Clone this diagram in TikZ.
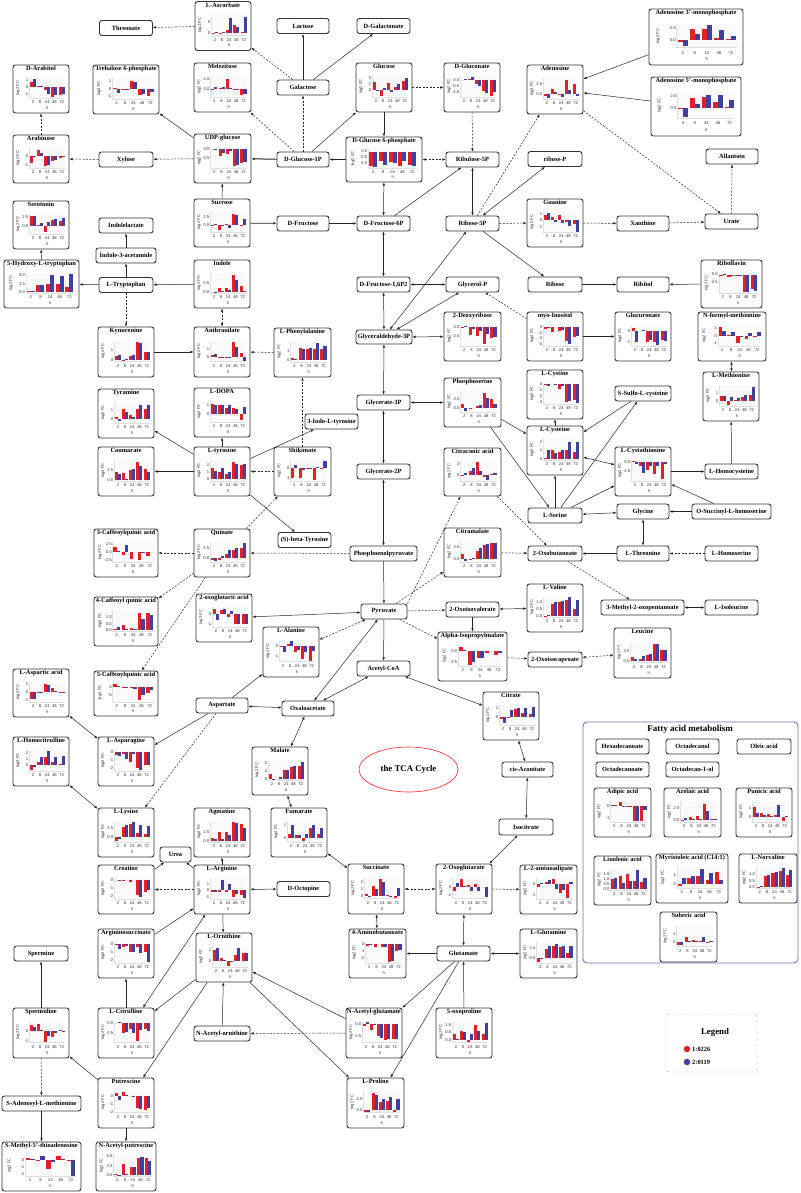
\documentclass[tikz,border=0pt]{standalone}
\usepackage{fontspec}
\setmainfont{Liberation Serif}
\setsansfont{Liberation Sans}
\usepackage{tikz}
\usetikzlibrary{positioning, arrows.meta, shapes.geometric, calc}
\usepackage{xcolor}

\definecolor{fcred}{RGB}{226,32,40}
\definecolor{fcblue}{RGB}{64,64,160}
\definecolor{faline}{RGB}{112,112,184}

% box with a small log2 FC bar chart
% #1 name, #2 centre, #3 width, #4 height, #5 title, #6 ymin, #7 ymax, #8 ticks, #9 values
\newcommand{\fcchart}[9]{%
  \node[fcbox, minimum width=#3, minimum height=#4] (#1) at (#2) {};
  \node[fctitle, anchor=north] (#1-t) at ([yshift=-1.2pt]#1.north) {#5};
  \begin{scope}[shift={(#1.north west)}]
    \pgfmathsetmacro{\fcl}{0.30*#3}
    \pgfmathsetmacro{\fcr}{0.94*#3}
    \pgfmathsetmacro{\fct}{0.28*#4}
    \pgfmathsetmacro{\fcb}{0.70*#4}
    \pgfmathsetmacro{\fcg}{(\fcr-\fcl)/5}
    \pgfmathsetmacro{\fcw}{0.42*\fcg}
    \pgfmathsetmacro{\fck}{(\fcb-\fct)/((#7)-(#6))}
    \pgfmathsetmacro{\fcz}{\fcb+(#6)*\fck}
    \fill[gray!4] (\fcl,\fct) rectangle (\fcr,\fcb);
    \draw[gray!25, line width=0.6pt] (\fcl,\fct) -- (\fcl,\fcb) -- (\fcr,\fcb);
    \foreach \bv [count=\nb from 0] in {#9} {
      \pgfmathtruncatemacro{\fcgi}{\nb/2}
      \pgfmathtruncatemacro{\fcs}{mod(\nb,2)}
      \pgfmathsetmacro{\fcx}{\fcl+(\fcgi+0.08)*\fcg+\fcs*\fcw}
      \pgfmathsetmacro{\fcy}{\fcz-(\bv)*\fck}
      \ifnum\fcs=0 \def\fccol{fcred}\else\def\fccol{fcblue}\fi
      \fill[\fccol] (\fcx,\fcz) rectangle ({\fcx+\fcw},\fcy);
    }
    \foreach \tk/\tx [count=\nt] in {#8}
      \node[fctick, anchor=east] (#1-y\nt) at ({\fcl-0.6},{\fcz-(\tk)*\fck}) {\tx};
    \foreach \hx [count=\nx from 0] in {2,8,24,48,72}
      \node[fctick] (#1-x\nx) at ({\fcl+(\nx+0.5)*\fcg},{0.79*#4}) {\hx};
    \node[fctick] (#1-h) at ({(\fcl+\fcr)/2},{0.90*#4}) {h};
    \node[fctick, rotate=90] (#1-lfc) at ({0.1*#3},{(\fct+\fcb)/2}) {log2 FC};
  \end{scope}
}

\begin{document}
\begin{tikzpicture}[
  x=1pt, y=-1pt,
  fcbox/.style={draw=black!80, line width=0.9pt, rounded corners=2.5pt, fill=white, inner sep=0pt},
  fctitle/.style={font=\bfseries\fontsize{6.4}{7}\selectfont, inner sep=0.5pt},
  fctick/.style={font=\sffamily\fontsize{4.2}{4.5}\selectfont, inner sep=0.3pt, text=black!80},
  mbox/.style={draw=black!80, line width=0.9pt, rounded corners=2.5pt, fill=white,
               font=\bfseries\fontsize{6.4}{7}\selectfont, minimum height=15, minimum width=53,
               inner xsep=0.5pt, inner ysep=0pt},
  ar/.style={draw=black!85, line width=0.5pt, -{Latex[length=3.2pt,width=2.6pt]}},
  bi/.style={draw=black!85, line width=0.5pt, {Latex[length=3.2pt,width=2.6pt]}-{Latex[length=3.2pt,width=2.6pt]}},
  dsh/.style={dash pattern=on 2pt off 1.5pt}
]
\useasboundingbox (0,0) rectangle (800,1193);
\fill[white] (0,0) rectangle (800,1193);

% fatty acid panel (behind its boxes)
\node[draw=faline, line width=0.9pt, rounded corners=4pt, minimum width=215, minimum height=241, inner sep=0pt] (fam) at (690.5,842.5) {};
\node[font=\bfseries\fontsize{9}{10}\selectfont] (fam-t) at (690,729.5) {Fatty acid metabolism};

% sugars
\fcchart{asc}{223,26}{56}{49}{L-Ascorbate}{-1}{8}{0/0,5/5}{0.2,0.3,-0.3,0.3,1.5,6.5,3.5,2.5,0.5,7}
\fcchart{mel}{222.5,87.5}{57}{49}{Melezitose}{-2}{3.3}{0/0.0,2.5/2.5}{-0.3,0.5,0.2,0.6,2.7,0.3,0.1,0.1,-1.5,-1.3}
\fcchart{arab}{41,89}{56}{48}{D-Arabitol}{-1.5}{1.3}{-1/-1,0/0,1/1}{0.8,1.1,0.2,0.2,-0.3,-0.9,-1.3,-1,-1,-0.9}
\fcchart{tre6p}{126,89.5}{66}{49}{Trehalose 6-phosphate}{-1.3}{1.3}{-1/-1,0/0,1/1}{0.1,-0.5,-0.2,-0.1,1.0,0.8,-0.8,-0.7,-1.0,-0.4}
\fcchart{arabinose}{41,159}{56}{48}{Arabinose}{-1.4}{1}{-1/-1,0/0}{-0.8,0.1,0.8,0.4,-1.2,-1,-0.6,-0.4,-0.2,-0.1}
\fcchart{udpg}{222.5,158.5}{57}{49}{UDP-glucose}{-5}{0.5}{-2.5/-2.5,0/0.0}{0,-0.2,-1.8,-1.1,-1.4,-0.5,-4.5,-4.2,-3.8,-3.5}
\fcchart{sero}{41,225}{56}{48}{Serotonin}{-2.5}{3.5}{0/0.0,2.5/2.5}{2.8,2.8,0.3,0.8,-2,1,1.6,2,1.3,2.3}
\fcchart{sucr}{222,223}{56}{48}{Sucrose}{-2}{4}{0/0.0,2.5/2.5}{0.2,0.3,-1.5,-0.3,0.3,-0.8,3.5,3.2,0.1,1.8}
\fcchart{htp}{41.5,284}{75}{48}{5-Hydroxy-L-tryptophan}{-0.3}{5.7}{0/0.0,2.5/2.5,5/5.0}{0.2,0.3,2,2,2.5,5,2.5,4.7,1.4,5.3}
\fcchart{indole}{222,284}{56}{48}{Indole}{-0.3}{5.5}{0/0.0,2.5/2.5}{0,0.1,1.2,0.2,1.3,0.5,4.8,3.5,1.8,0.4}
\fcchart{glc}{384,87.5}{56}{49}{Glucose}{-1}{2.2}{0/0,1/1,2/2}{1.3,0.1,-0.8,0.4,1.1,-0.2,0.5,1,1.4,1.9}
\fcchart{gluconate}{472,87.5}{56}{49}{D-Gluconate}{-1.4}{0.3}{-1/-1.0,-0.5/-0.5,0/0.0}{0,0.1,0.05,0.2,-0.3,-0.5,-0.9,-1.1,-1.3,-1}
\fcchart{g6p}{384,159.5}{76}{45}{D-Glucose 6-phosphate}{-1.4}{0.2}{-1/-1.0,-0.5/-0.5,0/0.0}{-1.2,-1.3,-0.8,-1.1,-0.9,-1.0,-1.2,-0.8,-1.1,-1.2}

\node[mbox] (threo) at (126,28) {Threonate};
\node[mbox, minimum width=52] (lac) at (303,26) {Lactose};
\node[mbox] (galn) at (383.5,26) {D-Galactonate};
\node[mbox, minimum width=52] (gal) at (303,87.5) {Galactose};
\node[mbox, minimum width=54] (xyl) at (126,159.5) {Xylose};
\node[mbox, minimum width=52] (g1p) at (303,159.5) {D-Glucose-1P};
\node[mbox] (ru5p) at (472.5,159.5) {Ribulose-5P};
\node[mbox, minimum width=54] (indlac) at (126,225.5) {Indolelactate};
\node[mbox, minimum width=52] (fru) at (303,223.5) {D-Fructose};
\node[mbox] (f6p) at (383.5,223.5) {D-Fructose-6P};
\node[mbox, minimum width=60] (iam) at (126,255.5) {Indole-3-acetamide};
\node[mbox, minimum width=54] (trp) at (126,285) {L-Tryptophan};
\node[mbox] (fbp) at (383.5,284.5) {D-Fructose-1,6P2};
\node[mbox] (glyp) at (472.5,284.5) {Glycerol-P};

% nucleotides
\fcchart{amp3}{696,37}{94}{56}{Adenosine 3'-monophosphate}{-1.5}{3.2}{0/0.0,2.5/2.5}{-0.3,-1.2,2.3,1.3,2.3,3,0.5,2,0.2,0.8}
\fcchart{ado}{555,89.5}{56}{49}{Adenosine}{-1.3}{4}{0/0.0,2.5/2.5}{-0.5,-1,1.2,0.5,-0.3,-0.8,3.5,1,2.5,-0.5}
\fcchart{amp5}{696,106.5}{90}{59}{Adenosine 5'-monophosphate}{-2}{3.2}{0/0.0,2.5/2.5}{-0.1,-1.8,2.2,1,2.3,2.7,1.3,2.7,0.3,1.8}
\fcchart{gua}{555,223}{56}{48}{Guanine}{-1.8}{1.3}{-1/-1,0/0,1/1}{0.9,1.1,0.6,-0.2,0.8,-0.4,-0.3,-0.8,-0.5,-1.7}
\fcchart{ribofl}{731.5,284}{61}{48}{Riboflavin}{-6}{0.5}{-2.5/-2.5,0/0.0}{-0.3,0.1,-0.8,-0.2,-0.3,-0.5,-5.5,-5.5,-4.7,-5.3}

\node[mbox, minimum width=54] (ribp) at (555,159) {ribose-P};
\node[mbox, minimum width=52] (allan) at (732,156.5) {Allantoin};
\node[mbox] (r5p) at (472.5,223.5) {Ribose-5P};
\node[mbox, minimum width=52] (xan) at (643,223.5) {Xanthine};
\node[mbox] (urate) at (731.5,221.5) {Urate};
\node[mbox, minimum width=54] (rib) at (555,284.5) {Ribose};
\node[mbox, minimum width=52] (ribol) at (643,284.5) {Ribitol};

% aromatic amino acids
\fcchart{kyn}{126,352}{56}{50}{Kynurenine}{-0.2}{2}{0/0,1/1}{0.4,0.5,-0.1,0.1,0.4,0.5,1.8,1.7,0.8,0.8}
\fcchart{anth}{222,352}{56}{50}{Anthranilate}{-0.6}{2.1}{0/0,1/1}{0.2,0.4,-0.1,-0.2,-0.1,-0.2,1.9,1.3,0.5,-0.5}
\fcchart{phe}{302.5,352.5}{57}{49}{L-Phenylalanine}{-0.2}{2}{0/0,1/1}{0.2,0.1,1.3,1.2,1.2,1.3,1.2,1.8,1.2,1.5}
\fcchart{tyra}{126,413.5}{56}{49}{Tyramine}{-0.4}{1.9}{0/0,1/1}{0.3,-0.2,1.2,0.8,0.5,0.3,1.1,1.6,1.1,1.6}
\fcchart{dopa}{222,412.5}{56}{49}{L-DOPA}{-1}{1.5}{0/0,1/1}{1.2,1.0,1.0,1.1,0.7,1.0,0.7,0.6,-0.8,0.8}
\fcchart{coum}{126,471.5}{56}{49}{Coumarate}{-0.3}{5}{0/0.0,2.5/2.5}{2.1,1.5,1.8,0.3,2.5,2.8,4.5,3.5,2.8,1.9}
\fcchart{tyr}{222,471.5}{56}{49}{L-tyrosine}{-0.2}{2.6}{0/0,1/1,2/2}{1.6,1.1,1.0,1.5,0.8,1.0,2.3,2.1,2.0,2.1}
\fcchart{cq3}{126,553}{64}{48}{3-Caffeoylquinic acid}{-3.3}{3}{-2.5/-2.5,0/0.0,2.5/2.5}{1.5,0.2,-1.2,2,-2.2,0,-2.5,-0.2,-1.5,0}
\fcchart{quin}{222,553}{56}{48}{Quinate}{-1.2}{4.2}{0/0.0,2.5/2.5}{-0.5,-1.0,-0.5,0.5,1.0,2.0,2.0,2.5,2.5,3.8}
\fcchart{shik}{302.5,471.5}{57}{49}{Shikimate}{-1.3}{0.8}{-1/-1,0/0}{-1,0.3,-1,-0.2,0.05,0.05,-1.2,0.1,0.05,0.7}

\node[mbox] (iodo) at (331.5,421.5) {3-Iodo-L-tyrosine};
\node[mbox] (btyr) at (304.5,540) {(S)-beta-Tyrosine};

% glycolysis side
\fcchart{deoxy}{472.5,336.5}{57}{49}{2-Deoxyribose}{-5}{0.4}{-2.5/-2.5,0/0.0}{-0.1,0.1,-2.2,-0.5,-2.3,-1.2,-4.5,-2,-3,-2.6}
\fcchart{pser}{472.5,402.5}{57}{49}{Phosphoserine}{-1.3}{5}{0/0.0,2.5/2.5}{1.2,-1,-0.5,0,0.5,0.8,4.5,3,2.5,1.2}
\fcchart{citra}{472.5,472}{57}{48}{Citraconic acid}{-1}{2.5}{0/0,2/2}{-0.1,0.5,0.8,1.3,2.3,0.8,-0.3,-0.8,0.3,0.4}
\fcchart{citm}{472.5,552.5}{57}{49}{Citramalate}{-0.5}{3.8}{0/0.0,2.5/2.5}{1.2,-0.3,0.2,0.3,1.8,2.3,3,3.2,3.4,3.5}

\node[mbox, minimum width=56, minimum height=14] (gap) at (384,337) {Glyceraldehyde-3P};
\node[mbox] (g3p) at (383.5,402.5) {Glycerate-3P};
\node[mbox] (g2p) at (383.5,471.5) {Glycerate-2P};
\node[mbox, minimum width=67] (pep) at (383.5,553.5) {Phosphoenolpyruvate};

% sulfur and serine
\fcchart{myo}{555,336.5}{56}{49}{myo-Inositol}{-3.3}{0.3}{-3/-3,-2/-2,-1/-1,0/0}{-0.3,-0.1,-0.8,0,-0.7,-0.5,-2.5,-3,-1.7,-1.5}
\fcchart{glcur}{643,336.5}{56}{49}{Glucuronate}{-1.3}{0.5}{-1/-1,0/0}{0.3,-1,0,0.05,-1,-0.8,-1.0,-1.2,-0.8,-0.9}
\fcchart{fmet}{732,336.5}{68}{49}{N-formyl-methionine}{-1.3}{1.3}{-1/-1,0/0,1/1}{1.1,0.6,0.1,0.5,-1,-0.2,-0.4,0.3,-0.1,0.5}
\fcchart{cyss}{555,394.5}{56}{49}{L-Cystine}{-3.3}{0.2}{-3/-3,-2/-2,-1/-1,0/0}{-0.1,-0.2,0,-0.1,-0.8,-0.3,-3,-2.8,-2.7,-3.2}
\fcchart{met}{731,396.5}{56}{49}{L-Methionine}{-0.6}{2}{0/0,1/1}{0.7,0.6,-0.5,0.5,0.1,0.4,0.5,0.8,0.8,1.8}
\fcchart{cys}{555,450.5}{56}{49}{L-Cysteine}{-0.1}{2.3}{0/0,1/1,2/2}{0.1,1.0,1.1,0.7,0.8,1.0,1.0,2.0,0.8,2.0}
\fcchart{cysta}{643,471.5}{56}{49}{L-Cystathionine}{-5}{0.5}{-2.5/-2.5,0/0.0}{0.3,-0.5,-1,-3,-2,-1.1,-3.2,-1,-4.5,-0.5}

\node[mbox, minimum width=56] (ssc) at (643,393.5) {S-Sulfo-L-cysteine};
\node[mbox] (hcys) at (731.5,471.5) {L-Homocysteine};
\node[mbox, minimum width=54] (ser) at (555,515.5) {L-Serine};
\node[mbox, minimum width=52] (gly) at (643,511.5) {Glycine};
\node[mbox, minimum width=79] (osh) at (731.5,511.5) {O-Succinyl-L-homoserine};
\node[mbox, minimum width=54] (oxob) at (555,553.5) {2-Oxobutanoate};
\node[mbox, minimum width=52] (thr) at (643,553.5) {L-Threonine};
\node[mbox] (hser) at (731.5,553.5) {L-Homoserine};

% branched chain
\fcchart{val}{555,608}{56}{48}{L-Valine}{-0.1}{1.4}{0/0.0,0.5/0.5,1/1.0}{-0.05,0.05,0.9,1.0,1.0,1.1,1.2,1.4,0.5,1.2}
\fcchart{leu}{642.5,653}{57}{50}{Leucine}{-0.3}{5}{0/0.0,2.5/2.5}{1.2,0.5,0.5,1.3,1.6,1.8,4.5,4.3,2.9,2.9}
\fcchart{ipm}{472.5,656.5}{69}{49}{Alpha-Isopropylmalate}{-3.3}{1.3}{-2.5/-2.5,0/0.0}{1,0.3,-3,-2.5,-1.5,-1.5,-0.5,0,-0.8,-0.5}

\node[mbox, minimum width=46] (pyr) at (384,611.5) {Pyruvate};
\node[mbox] (oxiv) at (472.5,609.5) {2-Oxoisovalerate};
\node[mbox, minimum width=83] (mop) at (642.5,607.5) {3-Methyl-2-oxopentanoate};
\node[mbox] (ile) at (731.5,607.5) {L-Isoleucine};
\node[mbox, minimum width=54] (oxic) at (555,659.5) {2-Oxoisocaproate};
\node[mbox] (acoa) at (383.5,668.5) {Acetyl-CoA};

% TCA cycle
\fcchart{oxoglu}{224,618}{56}{48}{2-oxoglutaric acid}{-1.3}{0.7}{-1/-1,0/0}{0.5,-0.6,0.4,0.5,-0.3,0.3,-1.0,-1.0,-1.0,-1.0}
\fcchart{cq4}{126,621.5}{64}{49}{4-Caffeoyl quinic acid}{-0.1}{1.6}{0/0.0,0.5/0.5,1/1.0}{0.05,0.2,0.4,0.05,0.1,0.05,1.4,0.9,1.4,1.2}
\fcchart{aspac}{41,693}{56}{48}{L-Aspartic acid}{-1.2}{1.3}{-1/-1,0/0,1/1}{-0.8,-0.8,0.05,0.1,1.1,0.9,0.5,0.2,-0.1,0.1}
\fcchart{cq5}{126,693.5}{64}{45}{5-Caffeoylquinic acid}{-9}{2}{-5/-5,0/0}{1.5,0.5,-0.5,-0.8,-0.5,-1.5,-8,-5,-4,-2}
\fcchart{hcit}{41,761.5}{56}{49}{L-Homocitrulline}{-1}{2.4}{0/0,1/1,2/2}{-0.8,-0.3,0.5,1.3,1.3,2.2,0.5,1.3,0.1,1.5}
\fcchart{asn}{126,761.5}{56}{49}{L-Asparagine}{-2.3}{0.2}{-2/-2,-1/-1,0/0}{-0.4,-0.5,-0.3,-0.8,-1.2,-0.3,-2,-2.2,-1.6,-1.6}
\fcchart{ala}{291,652}{56}{50}{L-Alanine}{-1.5}{0.5}{-1/-1,0/0}{-0.1,-0.6,0.2,0.5,-0.6,-0.4,-1.3,-0.6,-1.4,-0.5}
\fcchart{mal}{280,771}{56}{48}{Malate}{-0.1}{2.4}{0/0,1/1,2/2}{0.7,0.1,0.0,0.3,1.1,1.2,1.5,1.7,1.6,2.1}
\fcchart{cit}{511,716}{56}{48}{Citrate}{-1}{1.4}{0/0,1/1}{-0.3,-0.8,-0.2,0.8,0.9,1.1,0.4,1,0.3,1.2}
\fcchart{lys}{126,832.5}{56}{49}{L-Lysine}{-1.2}{4.3}{0/0.0,2.5/2.5}{-1,-0.5,2.7,3.3,3.6,4,1.2,3.2,0.8,3.0}
\fcchart{agm}{222,832.5}{56}{49}{Agmatine}{-0.3}{5.3}{0/0.0,2.5/2.5}{0.8,0.5,2.5,0.5,2.5,1.5,5,4.8,4.5,3.5}
\fcchart{fum}{299,832.5}{56}{49}{Fumarate}{-0.3}{1.3}{0/0,1/1}{0.3,1.0,0.2,0.2,-0.2,0.3,0.8,1.0,0.3,0.8}
\fcchart{crea}{126,889.5}{56}{49}{Creatine}{-2.3}{0.2}{-2/-2,-1/-1,0/0}{0,-0.1,-0.1,0,-0.2,0,-1.8,-2.1,-1.5,-1.2}
\fcchart{arg}{222,889.5}{56}{49}{L-Arginine}{-1.3}{1.9}{-1/-1,0/0,1/1}{-0.3,-0.2,-0.3,1.7,-0.2,1.0,-1.0,-0.6,-0.7,-1.2}
\fcchart{succ}{376,889}{56}{50}{Succinate}{-0.3}{2.7}{0/0,1/1,2/2}{0.3,0.1,1.5,1.1,2.5,2,0.2,0.1,-0.2,1.2}
\fcchart{oxog}{464,889}{56}{50}{2-Oxoglutarate}{-1.5}{1.2}{-1/-1,0/0}{-0.5,0.5,1.0,0.1,0.2,-0.5,0.4,-0.5,0,-1.3}
\fcchart{aad}{548.5,889.5}{57}{49}{L-2-aminoadipate}{-1.4}{0.6}{-1/-1,0/0}{-0.2,0.1,0.2,0.4,0.5,-0.4,-0.8,-0.5,-1.3,0.2}

\node[mbox, minimum width=52] (asp) at (222,705.5) {Aspartate};
\node[mbox, minimum width=52] (oaa) at (308,708.5) {Oxaloacetate};
\node[mbox, minimum width=51] (cisa) at (527.5,769.5) {cis-Aconitate};
\node[mbox, minimum width=54, minimum height=16] (icit) at (526,827) {Isocitrate};
\node[mbox, minimum width=31] (urea) at (175.5,854.5) {Urea};
\node[mbox] (octo) at (303.5,889) {D-Octopine};
\node[ellipse, draw=red!85, line width=0.6pt, minimum width=99, minimum height=45,
      font=\bfseries\fontsize{8.8}{10}\selectfont] (tca) at (408.5,769.5) {the TCA Cycle};

% glutamate, urea cycle, polyamines
\fcchart{asuc}{126,953.5}{56}{49}{Argininosuccinate}{-2.4}{0.2}{-2/-2,-1/-1,0/0}{-0.2,-0.6,-0.4,-0.3,-1,-1,-0.4,-1.1,-1.0,-2.3}
\fcchart{orn}{224,957.5}{56}{49}{L-Ornithine}{-0.6}{1.4}{0/0,1/1}{1.0,1.2,0.3,0.1,-0.5,-0.1,0.6,1.2,0.7,0.7}
\fcchart{gaba}{377.5,953.5}{57}{49}{4-Aminobutanoate}{-2.6}{0.2}{-2/-2,-1/-1,0/0}{-0.3,-0.2,-0.5,0,-0.5,-0.5,-2.5,-2.3,-1,-0.8}
\fcchart{gln}{548.5,953.5}{57}{49}{L-Glutamine}{-1.2}{3.8}{0/0.0,2.5/2.5}{-1,-0.3,2.2,3.0,3.0,3.5,2.7,3.0,1.2,3.0}
\fcchart{spd}{41,1033}{56}{50}{Spermidine}{-1.2}{0.9}{-1/-1,0/0}{0.6,0.4,0.7,0.1,-1.1,-0.5,-0.6,-0.2,0.1,-0.1}
\fcchart{citr}{126,1033}{56}{50}{L-Citrulline}{-5}{0.5}{-2.5/-2.5,0/0.0}{0,0.3,-2.5,-2.2,-1.5,-2.5,-4.5,-1.8,-1.5,-2.0}
\fcchart{nag}{374,1033}{56}{50}{N-Acetyl-glutamate}{-4}{0.5}{-2.5/-2.5,0/0.0}{-0.5,0.3,-1.3,-0.1,-2.5,-3,-3.5,-3.3,-3.3,-3.2}
\fcchart{oxop}{464,1033}{56}{50}{5-oxoproline}{-0.15}{1.2}{0/0.0,0.5/0.5,1/1.0}{0.4,0.05,0.6,0.5,-0.1,0.4,1.0,0.6,0.4,1.1}
\fcchart{put}{126,1103}{56}{50}{Putrescine}{-2.1}{0.6}{-2/-2,-1/-1,0/0}{0.4,-0.5,0.5,0.1,0.0,-0.1,-1.5,-1.6,-1.8,-1.5}
\fcchart{pro}{375.5,1103}{57}{50}{L-Proline}{-0.5}{4.3}{0/0.0,2.5/2.5}{-0.3,-0.3,4,3.5,2,2.5,2.2,3,-0.3,2.7}
\fcchart{mta}{41.5,1166.5}{79}{49}{S-Methyl-5'-thioadenosine}{-2.3}{0.7}{-2/-2,-1/-1,0/0}{0.3,0.2,-0.1,0.6,-1.3,-0.3,0.6,0.1,-0.2,-2.3}
\fcchart{acput}{126,1166.5}{60}{49}{N-Acetyl-putrescine}{-0.1}{5.3}{0/0.0,2.5/2.5,5/5.0}{0.4,0.2,2.9,0.3,2.2,2.2,4.5,4.8,4.5,3.8}

\node[mbox, minimum width=54] (spm) at (41,953.5) {Spermine};
\node[mbox] (glu) at (463.5,953.5) {Glutamate};
\node[mbox, minimum width=56] (naorn) at (222,1033.5) {N-Acetyl-ornithine};
\node[mbox, minimum width=79] (sam) at (41.5,1103.5) {S-Adenosyl-L-methionine};

% fatty acids
\node[mbox] (hexa) at (622.5,746.5) {Hexadecanoate};
\node[mbox] (octol) at (692.5,746.5) {Octadecanol};
\node[mbox, minimum width=54] (olei) at (764,746.5) {Oleic acid};
\node[mbox] (octa) at (622.5,769.5) {Octadecanoate};
\node[mbox] (octdol) at (692.5,769.5) {Octadecan-1-ol};
\fcchart{adip}{622.5,812.5}{57}{49}{Adipic acid}{-1.3}{0.4}{-1/-1,0/0}{0.1,0.1,0.3,-0.1,0.05,-0.1,-1.2,-1.2,-1.2,-0.3}
\fcchart{azel}{692.5,812.5}{57}{49}{Azelaic acid}{-0.5}{4}{0/0.0,2.5/2.5}{-0.1,0.3,0.5,0.2,0.8,0.2,3.5,1.8,0.1,0.1}
\fcchart{puni}{764,812.5}{56}{49}{Punicic acid}{-0.5}{1.8}{0/0,1/1}{1.2,0.5,0.5,0.3,0.4,0.2,0.3,1.4,-0.4,0.1}
\fcchart{linol}{622.5,880.5}{57}{49}{Linolenic acid}{-0.1}{2}{0/0.0,0.5/0.5,1/1.0,1.5/1.5}{1.0,1.1,1.3,0.6,1.5,0.8,0.8,1.9,0.7,1.1}
\fcchart{myris}{692,878.5}{72}{49}{Myristoleic acid (C14:1)}{-0.5}{2}{0/0,1/1}{-0.3,0.7,0.7,0.9,0.9,1.8,0.4,1.3,1.4,0.4}
\fcchart{nval}{768,878.5}{58}{49}{L-Norvaline}{-0.1}{1.6}{0/0.0,0.5/0.5,1/1.0}{-0.05,0.05,0.9,1.0,1.1,1.2,1.3,1.5,1.0,1.4}
\fcchart{sube}{688.5,937}{57}{50}{Suberic acid}{-0.5}{2}{0/0,1/1}{-0.3,-0.3,0.6,0.2,0.3,0.2,0.2,0.6,0.1,0.2}

% legend
\node[draw=gray!70, dashed, rounded corners=3pt, minimum width=91, minimum height=58, inner sep=0pt] (leg) at (711.5,1043) {};
\node[font=\bfseries\fontsize{8.8}{10}\selectfont] (leg-t) at (715,1032) {Legend};
\node[circle, fill=fcred, minimum size=6.5, inner sep=0pt] (leg-r) at (687,1049) {};
\node[anchor=west, font=\bfseries\fontsize{6.4}{7}\selectfont, inner sep=1pt] (leg-rl) at (691,1049) {1:0226};
\node[circle, fill=fcblue, minimum size=6.5, inner sep=0pt] (leg-b) at (687,1062) {};
\node[anchor=west, font=\bfseries\fontsize{6.4}{7}\selectfont, inner sep=1pt] (leg-bl) at (691,1062) {2:0119};

% connectors: sugars
\draw[ar,dsh] (asc) -- (threo);
\draw[ar,dsh] (gal) -- (asc);
\draw[ar,dsh] (g1p) -- (mel);
\draw[ar] (gal) -- (lac);
\draw[ar] (gal) -- (galn);
\draw[ar,dsh] (g1p) -- (gal);
\draw[ar] (g1p) -- (glc);
\draw[ar] (g6p) -- (g1p);
\draw[ar,dsh] (glc) -- (gluconate);
\draw[ar] (glc) -- (g6p);
\draw[ar,dsh] (gluconate) -- (ru5p);
\draw[bi,dsh] (g6p) -- (ru5p);
\draw[bi] (g6p) -- (f6p);
\draw[ar] (f6p) -- (ru5p);
\draw[bi] (ru5p) -- (r5p);
\draw[ar, line width=0.8pt] (fru) -- (f6p);
\draw[ar, line width=0.8pt] (sucr) -- (fru);
\draw[ar, line width=1pt] (g1p) -- (udpg);
\draw[ar] (udpg) -- (tre6p);
\draw[ar,dsh] (udpg) -- (xyl);
\draw[ar,dsh] (xyl) -- (arabinose);
\draw[ar,dsh] (arabinose) -- (arab);
\draw[ar] (sucr) -- (udpg);

% glycolysis
\draw[bi] (f6p) -- (fbp);
\draw[bi] (fbp) -- (glyp);
\draw[bi] (fbp) -- (gap);
\draw[bi] (gap) -- (r5p);
\draw[bi] (gap) -- (glyp);
\draw[bi] (gap) -- (deoxy);
\draw[bi] (gap) -- (g3p);
\draw[bi] (g3p) -- (pser);
\draw[bi] (g3p) -- (g2p);
\draw[bi] (g2p) -- (pep);
\draw[ar] (pep) -- (pyr);
\draw[ar] (pyr) -- (acoa);

% nucleotides
\draw[bi] (r5p) -- (ribp);
\draw[ar,dsh] (r5p) -- (ado);
\draw[ar,dsh] (r5p) -- (gua);
\draw[ar] (r5p) -- (rib);
\draw[ar] (rib) -- (ribol);
\draw[ar] (ribofl) -- (ribol);
\draw[ar,dsh] (gua) -- (xan);
\draw[ar,dsh] (xan) -- (urate);
\draw[ar,dsh] (urate) -- (allan);
\draw[ar,dsh] (ado) -- (urate);
\draw[ar] (amp3) -- (ado);
\draw[ar] (amp5) -- (ado);
\draw[ar,dsh] (myo) -- (glyp);
\draw[ar] (myo) -- (glcur);

% serine and sulfur
\draw[bi] (fmet) -- (met);
\draw[ar] (hcys) -- (met);
\draw[ar] (pser) -- (cys);
\draw[ar] (pser) -- (ser);
\draw[ar] (cys) -- (cyss);
\draw[ar] (ssc) -- (cys);
\draw[ar] (ser) -- (ssc);
\draw[ar] (ser) -- (cys);
\draw[bi] (cys) -- (cysta);
\draw[ar] (ser) -- (cysta);
\draw[ar] (cysta) -- (hcys);
\draw[ar] (osh) -- (cysta);
\draw[ar] (osh) -- (gly);
\draw[bi] (ser) -- (gly);
\draw[bi] (gly) -- (thr);
\draw[ar] (thr) -- (oxob);
\draw[ar,dsh] (hser) -- (thr);
\draw[ar,dsh] (citra) -- (oxob);
\draw[ar,dsh] (oxob) -- (mop);
\draw[bi] (ile) -- (mop);
\draw[ar,dsh] (citm) -- (oxob);
\draw[ar,dsh] (pyr.north east) -- (citra);
\draw[ar,dsh] (pyr) -- (citm);

% aromatic
\draw[ar,dsh] (pep) -- (quin);
\draw[ar,dsh] (quin) -- (cq3);
\draw[ar,dsh] (quin) -- (cq4);
\draw[ar,dsh] (quin) -- (cq5);
\draw[ar,dsh] (quin) -- (shik);
\draw[ar] (tyr) -- (btyr);
\draw[ar] (tyr) -- (iodo);
\draw[ar] (tyr) -- (tyra);
\draw[ar] (tyr) -- (coum);
\draw[ar] (tyr) -- (dopa);
\draw[ar,dsh] (shik) -- (tyr);
\draw[ar,dsh] (shik) -- (phe);
\draw[ar,dsh] (phe) -- (anth);
\draw[ar] (kyn) -- (anth);
\draw[ar,dsh] (trp) -- (kyn);
\draw[bi,dsh] (indole) -- (anth);
\draw[ar] (indole) -- (trp);
\draw[ar] (trp) -- (htp);
\draw[ar] (htp) -- (sero);
\draw[ar] (trp) -- (iam);
\draw[ar] (iam) -- (indlac);

% pyruvate and TCA
\draw[bi] (oxoglu) -- (pyr);
\draw[bi,dsh] (pyr) -- (ala);
\draw[ar,dsh] (pyr) -- (oxiv);
\draw[bi] (oxiv) -- (val);
\draw[ar] (oxiv) -- (ipm);
\draw[ar,dsh] (pyr) -- (ipm);
\draw[ar,dsh] (ipm) -- (oxic);
\draw[bi,dsh] (oxic) -- (leu);
\draw[bi] (pyr) -- (oaa);
\draw[bi] (acoa) -- (oaa);
\draw[bi] (acoa) -- (cit);
\draw[bi] (asp) -- (oaa);
\draw[ar] (asp) -- (ala);
\draw[ar] (asp) -- (asn);
\draw[bi] (aspac) -- (asn);
\draw[ar,dsh] (asp) -- (lys);
\draw[bi] (hcit) -- (lys);
\draw[bi] (oaa) -- (mal);
\draw[bi] (mal) -- (fum);
\draw[bi] (fum) -- (succ);
\draw[bi,dsh] (succ) -- (oxog);
\draw[bi] (oxog) -- (icit);
\draw[bi] (icit) -- (cisa);
\draw[bi] (cisa) -- (cit);
\draw[ar,dsh] (oxog) -- (aad);
\draw[bi] (succ) -- (gaba);
\draw[bi] (oxog) -- (glu);
\draw[ar] (glu) -- (gaba);
\draw[bi] (glu) -- (gln);
\draw[ar] (glu) -- (nag);
\draw[ar] (glu) -- (pro);
\draw[ar] (oxop) -- (glu);

% urea cycle and polyamines
\draw[ar,dsh] (nag) -- (naorn);
\draw[ar] (naorn) -- (orn);
\draw[ar] (nag) -- (orn);
\draw[ar] (orn) -- (pro);
\draw[ar] (arg) -- (orn);
\draw[bi] (arg) -- (octo);
\draw[ar] (arg) -- (agm);
\draw[ar,dsh] (arg) -- (crea);
\draw[ar] (arg) -- (urea);
\draw[ar] (crea) -- (urea);
\draw[ar] (asuc) -- (arg);
\draw[bi] (citr) -- (arg);
\draw[ar] (orn) -- (citr);
\draw[ar] (citr) -- (asuc);
\draw[ar] (orn) -- (put);
\draw[ar] (put) -- (spd);
\draw[ar] (spd) -- (spm);
\draw[ar,dsh] (spd) -- (sam);
\draw[ar] (sam) -- (mta);
\draw[ar] (put) -- (acput);

\end{tikzpicture}
\end{document}
